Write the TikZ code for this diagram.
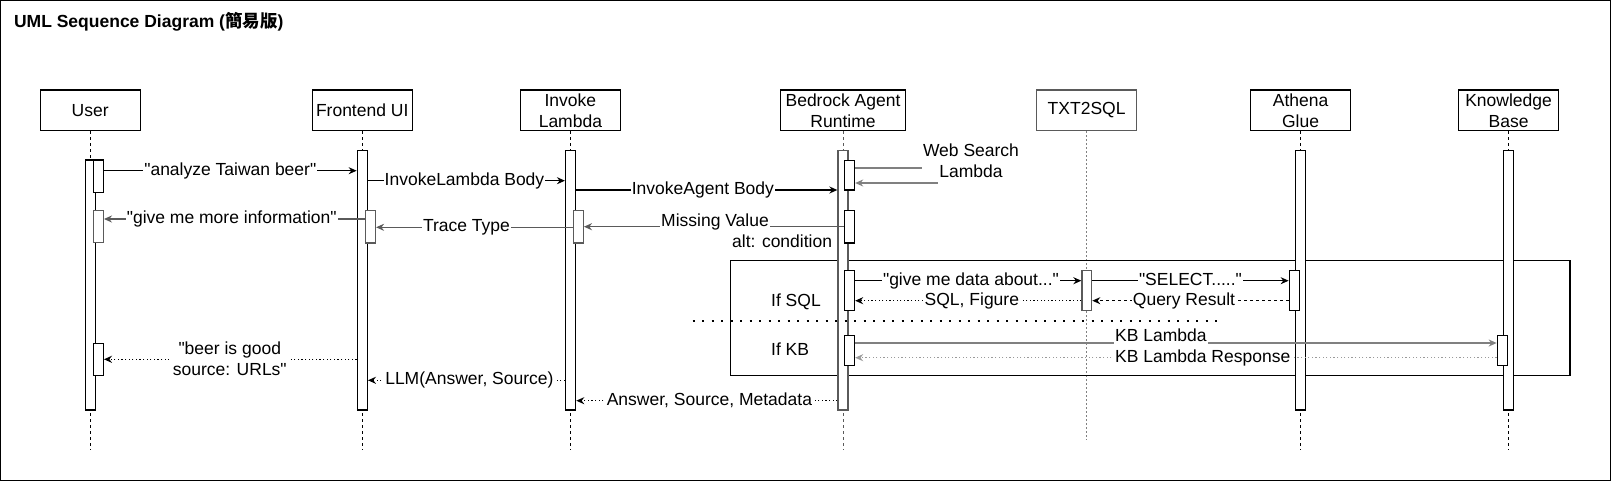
\documentclass[tikz,border=0pt]{standalone}
\usepackage{fontspec}
\setmainfont{Liberation Sans}
\newfontfamily\lsans{Liberation Sans}
\newfontfamily\cjk{Noto Sans CJK TC}
\usetikzlibrary{arrows.meta,fit}
\definecolor{gl}{HTML}{808080}
\definecolor{gm}{HTML}{5A5A5A}
\definecolor{gx}{HTML}{9A9A9A}
\begin{document}
\begin{tikzpicture}[x=1pt,y=-1pt, font=\lsans\fontsize{17.5}{21}\selectfont, line width=1.3pt,
  head/.style={draw, fill=white, minimum width=100pt, minimum height=40.7pt, inner sep=0pt, align=center},
  bar/.style={draw, fill=white, inner sep=0pt},
  life/.style={dash pattern=on 3pt off 3pt, line width=1pt},
  msg/.style={-{Stealth[length=8pt,width=7pt]}},
  dotl/.style={dash pattern=on 1.2pt off 2.4pt},
  dashl/.style={dash pattern=on 3pt off 3pt},
  lbl/.style={fill=white, inner sep=1pt, text height=12.5pt, text depth=3.7pt},
  sepl/.style={dash pattern=on 2pt off 7.5pt, line width=2pt},
  plain/.style={inner sep=1pt}
]
\useasboundingbox (0,0) rectangle (1611,482);
\draw (0.65,0.65) rectangle (1610.35,480.35);

\node[anchor=base west, inner sep=0pt, font=\lsans\fontsize{17.5}{21}\selectfont\bfseries] (title) at (13.4,27.3) {UML Sequence Diagram ({\cjk 簡易版})};

% heads
\node[head] (hUser) at (90.2,110.3) {User};
\node[head] (hFront) at (362.2,110.3) {Frontend UI};
\node[head] (hInv) at (570.4,110.3) {Invoke\\Lambda};
\node[head, minimum width=125.4pt] (hBed) at (843,110.3) {Bedrock Agent\\Runtime};
\node[head, draw=gm] (hTxt) at (1086.6,110.3) {TXT2SQL};
\node[head] (hAth) at (1300.6,110.3) {Athena\\Glue};
\node[head] (hKB) at (1508.6,110.3) {Knowledge\\Base};

% lifelines
\draw[life] (hUser.south) -- (hUser.south |- 0,450);
\draw[life] (hFront.south) -- (hFront.south |- 0,450);
\draw[life] (hInv.south) -- (hInv.south |- 0,450);
\draw[life, draw=gm] (hBed.south) -- (hBed.south |- 0,450);
\draw[life, draw=gl, dash pattern=on 2pt off 2pt] (hTxt.south) -- (hTxt.south |- 0,440);
\draw[life] (hAth.south) -- (hAth.south |- 0,450);
\draw[life] (hKB.south) -- (hKB.south |- 0,450);

% alt frame
\node[draw, inner sep=0pt, fit={(730.5,260.3) (1570,375.3)}] (alt) {};

% bars
\node[bar, fit={(85.2,160) (95.2,410)}] (bUser) {};
\node[bar, fit={(357.3,150.3) (367.3,410)}] (bFront) {};
\node[bar, fit={(565.6,150.3) (575.6,410)}] (bInv) {};
\node[bar, draw=gm, fit={(838,150.3) (848,410)}] (bBed) {};
\node[bar, fit={(1295.5,150.3) (1305.3,410)}] (bAth) {};
\node[bar, fit={(1503.4,150.3) (1513.4,410)}] (bKB) {};

% activations
\node[bar, fit={(93.3,160) (103.3,192.7)}] (aU1) {};
\node[bar, draw=gm, fit={(93.3,210.7) (103.3,242.7)}] (aU2) {};
\node[bar, fit={(93.3,343.3) (103.3,375.3)}] (aU3) {};
\node[bar, draw=gm, fit={(365.4,210.5) (375.4,243)}] (aF) {};
\node[bar, draw=gm, fit={(573.3,210.5) (583.3,243)}] (aI) {};
\node[bar, fit={(844.7,160.3) (854.5,190)}] (aB1) {};
\node[bar, fit={(844.7,210.3) (854.5,243)}] (aB2) {};
\node[bar, fit={(844.7,270.7) (854.5,310.3)}] (aB3) {};
\node[bar, fit={(844.7,335.3) (854.5,365.3)}] (aB4) {};
\node[bar, draw=gm, fit={(1082,270.5) (1091.6,310.3)}] (aT) {};
\node[bar, fit={(1289.3,270.3) (1299.7,310.3)}] (aA) {};
\node[bar, fit={(1497.3,335.3) (1507.7,365.3)}] (aK) {};

% separator
\coordinate (sepL) at (692.7,320.7);
\coordinate (sepR) at (1222.5,320.7);
\draw[sepl] (sepL) -- (sepR);

% messages
\draw[msg] (aU1.east |- 0,170.7) -- (bFront.west |- 0,170.7) node[lbl, midway] {"analyze Taiwan beer"};
\draw[msg] (bFront.east |- 0,180.7) -- (bInv.west |- 0,180.7) node[lbl, pos=0.49] {InvokeLambda Body};
\draw[msg] (bInv.east |- 0,190) -- (bBed.west |- 0,190) node[lbl, pos=0.485] {InvokeAgent Body};

\coordinate (wsA) at (971,168);
\coordinate (wsB) at (971,183);
\draw[msg, draw=gl] (aB1.east |- wsA) -- (wsA) -- (wsB) -- (aB1.east |- wsB);
\node[anchor=base, fill=white, inner xsep=1pt, inner ysep=0pt, text height=16pt, text depth=20pt] (lWeb) at (971,156.3) {Web Search};
\node[anchor=base, fill=white, inner xsep=1pt, inner ysep=0pt, text height=17pt, text depth=13pt] (lLam) at (971,177.3) {Lambda};

\draw[msg, draw=gm] (aB2.west |- 0,226.7) -- (aI.east |- 0,226.7);
\node[lbl] (lMiss) at (715,222.5) {Missing Value};
\node[plain, anchor=east] (lAlt) at (833.7,241) {alt: condition};

\draw[msg, draw=gm] (aI.west |- 0,227.3) -- (aF.east |- 0,227.3) node[lbl, pos=0.54] {Trace Type};
\draw[msg, draw=gm] (aF.west |- 0,219) -- (aU2.east |- 0,219) node[lbl, pos=0.51] {"give me more information"};

\draw[msg] (aB3.east |- 0,280.7) -- (aT.west |- 0,280.7) node[lbl, pos=0.512] {"give me data about..."};
\draw[msg] (aT.east |- 0,280.7) -- (aA.west |- 0,280.7) node[lbl, midway] {"SELECT....."};
\draw[msg, dashl] (aA.west |- 0,300.7) -- (aT.east |- 0,300.7) node[lbl, pos=0.533] {Query Result};
\draw[msg, dotl] (aT.west |- 0,300.7) -- (aB3.east |- 0,300.7) node[lbl, pos=0.484] {SQL, Figure};

\node[plain, anchor=west] (lSQL) at (769.5,301.7) {If SQL};
\node[plain, anchor=west] (lKBif) at (769.5,349.3) {If KB};

\draw[msg, draw=gl] (aB4.east |- 0,343) -- (aK.west |- 0,343);
\node[lbl, anchor=base west] (lKBL) at (1113.5,341.5) {KB Lambda};
\draw[msg, dotl, draw=gx] (aK.west |- 0,357.7) -- (aB4.east |- 0,357.7);
\node[lbl, anchor=west] (lKBR) at (1113.5,357.7) {KB Lambda Response};

\draw[msg, dotl] (bFront.west |- 0,359.3) -- (aU3.east |- 0,359.3);
\node[fill=white, inner xsep=4pt, inner ysep=1pt, align=center] (lBeer) at (229.8,358.8) {"beer is good\\source: URLs"};
\draw[msg, dotl] (bInv.west |- 0,380.3) -- (bFront.east |- 0,380.3) node[lbl, pos=0.485] {LLM(Answer, Source)};
\draw[msg, dotl] (bBed.west |- 0,400.7) -- (bInv.east |- 0,400.7) node[lbl, pos=0.49] {Answer, Source, Metadata};
\end{tikzpicture}
\end{document}
